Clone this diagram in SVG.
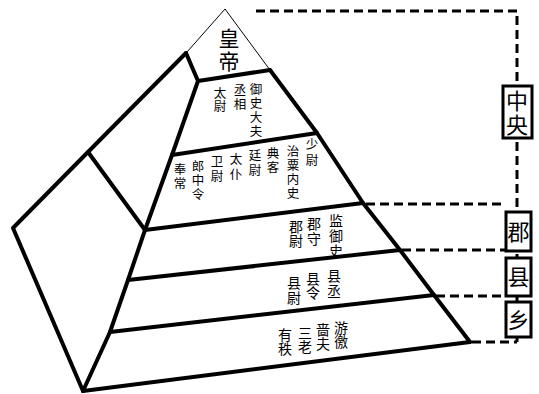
<svg xmlns="http://www.w3.org/2000/svg" width="539" height="394" viewBox="0 0 539 394">
<style>
.thick{fill:none;stroke:#000;stroke-width:4;stroke-linejoin:round;stroke-linecap:round}
.thin{fill:none;stroke:#000;stroke-width:1}
.dash{fill:none;stroke:#000;stroke-width:3;stroke-dasharray:9 5}
.box{fill:#fff;stroke:#000;stroke-width:3}
text{font-family:"Noto Sans CJK SC","Noto Sans CJK JP",sans-serif;fill:#000;text-anchor:middle}
.s13{font-size:12.5px}
.s15{font-size:14px}
.s21{font-size:21px}
.s22{font-size:22px}
</style>
<rect width="539" height="394" fill="#fff"/>
<g id="connectors">
<path class="dash" d="M256 11 H517 V342"/>
<path class="dash" d="M366 204 H506"/>
<path class="dash" d="M402 250 H506"/>
<path class="dash" d="M436 296 H506"/>
<path class="dash" d="M472 342 H517"/>
</g>
<g id="pyramid">
<path class="thin" d="M187 52 L225 9 L270 70"/>
<path class="thick" d="M186 53 L88 152 L13 228 L83 391"/>
<path class="thick" d="M186 53 L198 81 L172 155 L145 230 L128 280 L110 332 L83 391"/>
<path class="thick" d="M88 152 L145 230"/>
<path class="thick" d="M270 70 L317 133 L363 203 L400 250 L434 295 L470 342"/>
<path class="thick" d="M198 81 L270 70"/>
<path class="thick" d="M172 155 L317 133"/>
<path class="thick" d="M145 230 L363 203"/>
<path class="thick" d="M128 280 L400 250"/>
<path class="thick" d="M110 332 L434 295"/>
<path class="thick" d="M83 391 L470 342"/>
</g>
<g id="emperor">
<text class="s21" x="229" y="46">皇</text>
<text class="s21" x="229" y="69">帝</text>
</g>
<g id="level-sangong">
<text class="s13"><tspan x="256" y="94">御</tspan><tspan x="256" y="108">史</tspan><tspan x="256" y="122">大</tspan><tspan x="256" y="136">夫</tspan></text>
<text class="s13"><tspan x="240" y="95">丞</tspan><tspan x="240" y="109">相</tspan></text>
<text class="s13"><tspan x="220" y="98">太</tspan><tspan x="220" y="111">尉</tspan></text>
</g>
<g id="level-jiuqing">
<text class="s13"><tspan x="312" y="149">少</tspan><tspan x="312" y="165">尉</tspan></text>
<text class="s13"><tspan x="293" y="156">治</tspan><tspan x="293" y="170">粟</tspan><tspan x="293" y="184">内</tspan><tspan x="293" y="198">史</tspan></text>
<text class="s13"><tspan x="273" y="158">典</tspan><tspan x="273" y="172">客</tspan></text>
<text class="s13"><tspan x="255" y="160">廷</tspan><tspan x="255" y="175">尉</tspan></text>
<text class="s13"><tspan x="236" y="164">太</tspan><tspan x="236" y="179">仆</tspan></text>
<text class="s13"><tspan x="217" y="166">卫</tspan><tspan x="217" y="181">尉</tspan></text>
<text class="s13"><tspan x="198" y="171">郎</tspan><tspan x="198" y="185">中</tspan><tspan x="198" y="199">令</tspan></text>
<text class="s13"><tspan x="180" y="174">奉</tspan><tspan x="180" y="188">常</tspan></text>
</g>
<g id="level-jun">
<text class="s15"><tspan x="336" y="226">监</tspan><tspan x="336" y="241">御</tspan><tspan x="336" y="256">史</tspan></text>
<text class="s15"><tspan x="314" y="229">郡</tspan><tspan x="314" y="244">守</tspan></text>
<text class="s15"><tspan x="296" y="232">郡</tspan><tspan x="296" y="246">尉</tspan></text>
</g>
<g id="level-xian">
<text class="s15"><tspan x="334" y="281">县</tspan><tspan x="334" y="296">丞</tspan></text>
<text class="s15"><tspan x="313" y="284">县</tspan><tspan x="313" y="298">令</tspan></text>
<text class="s15"><tspan x="294" y="288">县</tspan><tspan x="294" y="303">尉</tspan></text>
</g>
<g id="level-xiang">
<text class="s15"><tspan x="341" y="333">游</tspan><tspan x="341" y="347">徼</tspan></text>
<text class="s15"><tspan x="323" y="335">啬</tspan><tspan x="323" y="349">夫</tspan></text>
<text class="s15"><tspan x="305" y="338">三</tspan><tspan x="305" y="352">老</tspan></text>
<text class="s15"><tspan x="285" y="340">有</tspan><tspan x="285" y="354">秩</tspan></text>
</g>
<g id="box-zhongyang">
<rect class="box" x="503" y="86" width="29" height="52"/>
<text class="s22" x="517" y="109">中</text>
<text class="s22" x="517" y="133">央</text>
</g>
<g id="box-jun">
<rect class="box" x="506" y="212" width="25" height="39"/>
<text class="s22" x="518.5" y="240">郡</text>
</g>
<g id="box-xian">
<rect class="box" x="506" y="258" width="25" height="38"/>
<text class="s22" x="518.5" y="285">县</text>
</g>
<g id="box-xiang">
<rect class="box" x="506" y="302" width="25" height="35"/>
<text class="s22" x="518.5" y="328">乡</text>
</g>
</svg>
